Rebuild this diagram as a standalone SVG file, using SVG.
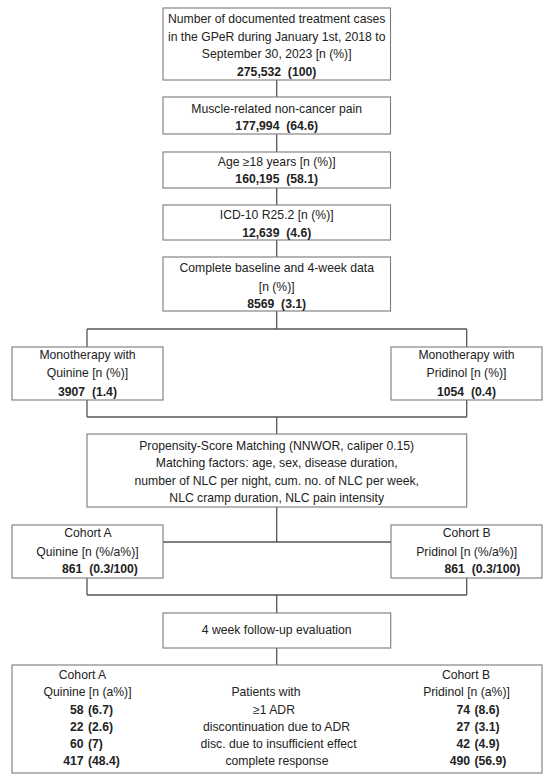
<svg xmlns="http://www.w3.org/2000/svg" width="550" height="779" viewBox="0 0 550 779">
<style>
.box{fill:#fff;stroke:#7a7a7a;stroke-width:1.1}
.con{stroke:#555;stroke-width:1.3;fill:none}
text{font-family:"Liberation Sans",Arial,sans-serif;font-size:12.2px;fill:#222}
.c{text-anchor:middle}
.b{font-weight:bold;white-space:pre}
.e{text-anchor:end}
</style>
<rect width="550" height="779" fill="#fff"/>
<g id="connectors">
<path class="con" d="M276.7 80V97M276.7 134V152M276.7 188V205M276.7 240V257M276.7 311V329M87 329H466.7M87 329V347M466.7 329V347M87 400V417M466.7 400V417M87 417H466.7M276.7 417V434M276.7 507V542M163 542H391M87 578V595M466.7 578V595M87 595H466.7M276.7 595V613M276.7 648V665"/>
</g>
<g id="n1">
<rect class="box" x="163" y="8" width="227.5" height="72"/>
<text class="c" x="276.7" y="22.7">Number of documented treatment cases</text>
<text class="c" x="276.7" y="40.5">in the GPeR during January 1st, 2018 to</text>
<text class="c" x="276.7" y="58.3">September 30, 2023 [n (%)]</text>
<text class="c b" x="276.7" y="76" xml:space="preserve">275,532  (100)</text>
</g>
<g id="n2">
<rect class="box" x="163" y="97" width="227.5" height="37"/>
<text class="c" x="276.7" y="112.7">Muscle-related non-cancer pain</text>
<text class="c b" x="276.7" y="130" xml:space="preserve">177,994  (64.6)</text>
</g>
<g id="n3">
<rect class="box" x="163" y="152" width="227.5" height="36"/>
<text class="c" x="276.7" y="165.7">Age ≥18 years [n (%)]</text>
<text class="c b" x="276.7" y="182.5" xml:space="preserve">160,195  (58.1)</text>
</g>
<g id="n4">
<rect class="box" x="163" y="205" width="227.5" height="35"/>
<text class="c" x="276.7" y="219">ICD-10 R25.2 [n (%)]</text>
<text class="c b" x="276.7" y="236.5" xml:space="preserve">12,639  (4.6)</text>
</g>
<g id="n5">
<rect class="box" x="163" y="257" width="227.5" height="54"/>
<text class="c" x="276.7" y="272.3">Complete baseline and 4-week data</text>
<text class="c" x="276.7" y="290.5">[n (%)]</text>
<text class="c b" x="276.7" y="307.5" xml:space="preserve">8569  (3.1)</text>
</g>
<g id="n6">
<rect class="box" x="12" y="347" width="151" height="53"/>
<text class="c" x="87.5" y="359.3">Monotherapy with</text>
<text class="c" x="87.5" y="377.3">Quinine [n (%)]</text>
<text class="c b" x="87.5" y="396" xml:space="preserve">3907  (1.4)</text>
</g>
<g id="n7">
<rect class="box" x="391" y="347" width="151" height="53"/>
<text class="c" x="466.5" y="359.3">Monotherapy with</text>
<text class="c" x="466.5" y="377.3">Pridinol [n (%)]</text>
<text class="c b" x="466.5" y="396" xml:space="preserve">1054  (0.4)</text>
</g>
<g id="n8">
<rect class="box" x="87" y="434" width="379.7" height="73"/>
<text class="c" x="276.7" y="449.5">Propensity-Score Matching (NNWOR, caliper 0.15)</text>
<text class="c" x="276.7" y="467">Matching factors: age, sex, disease duration,</text>
<text class="c" x="276.7" y="484.5">number of NLC per night, cum. no. of NLC per week,</text>
<text class="c" x="276.7" y="502">NLC cramp duration, NLC pain intensity</text>
</g>
<g id="n9">
<rect class="box" x="12" y="525" width="151" height="53"/>
<text class="c" x="88" y="537.3">Cohort A</text>
<text class="c" x="87.5" y="555.7">Quinine [n (%/a%)]</text>
<text class="c b" x="100" y="573.3" xml:space="preserve">861  (0.3/100)</text>
</g>
<g id="n10">
<rect class="box" x="391" y="525" width="151" height="53"/>
<text class="c" x="466.7" y="537.3">Cohort B</text>
<text class="c" x="466.7" y="555.7">Pridinol [n (%/a%)]</text>
<text class="c b" x="482.5" y="573.3" xml:space="preserve">861  (0.3/100)</text>
</g>
<g id="n11">
<rect class="box" x="163" y="613" width="227.7" height="35"/>
<text class="c" x="276.7" y="634">4 week follow-up evaluation</text>
</g>
<g id="n12">
<rect class="box" x="12" y="665" width="530" height="108"/>
<text class="c" x="82.5" y="679">Cohort A</text>
<text class="c" x="87.5" y="696.3">Quinine [n (a%)]</text>
<text class="b"><tspan class="e" x="83.5" y="713.5">58</tspan><tspan x="88" y="713.5">(6.7)</tspan></text>
<text class="b"><tspan class="e" x="83.5" y="730.8">22</tspan><tspan x="88" y="730.8">(2.6)</tspan></text>
<text class="b"><tspan class="e" x="83.5" y="748">60</tspan><tspan x="88" y="748">(7)</tspan></text>
<text class="b"><tspan class="e" x="83.5" y="765.3">417</tspan><tspan x="88" y="765.3">(48.4)</tspan></text>
<text class="c" x="466" y="679">Cohort B</text>
<text class="c" x="466.5" y="696.3">Pridinol [n (a%)]</text>
<text class="b"><tspan class="e" x="470" y="713.5">74</tspan><tspan x="474.5" y="713.5">(8.6)</tspan></text>
<text class="b"><tspan class="e" x="470" y="730.8">27</tspan><tspan x="474.5" y="730.8">(3.1)</tspan></text>
<text class="b"><tspan class="e" x="470" y="748">42</tspan><tspan x="474.5" y="748">(4.9)</tspan></text>
<text class="b"><tspan class="e" x="470" y="765.3">490</tspan><tspan x="474.5" y="765.3">(56.9)</tspan></text>
<text class="c" x="266" y="696.3">Patients with</text>
<text class="c" x="274" y="713.5">≥1 ADR</text>
<text class="c" x="276.5" y="730.8">discontinuation due to ADR</text>
<text class="c" x="278.5" y="748">disc. due to insufficient effect</text>
<text class="c" x="277" y="765.3">complete response</text>
</g>
</svg>
